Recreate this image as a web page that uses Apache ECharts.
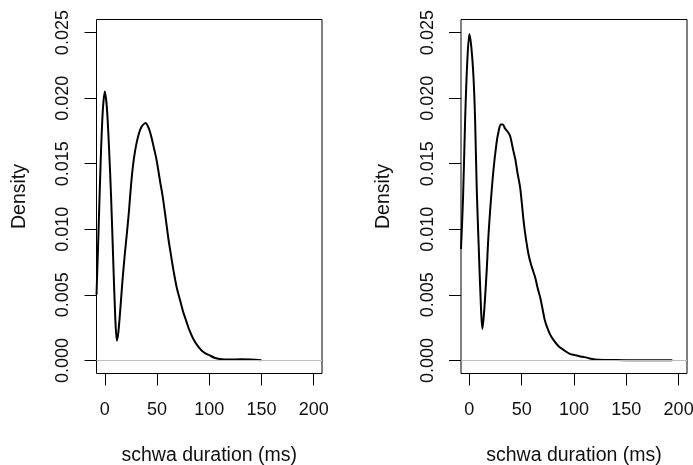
<!DOCTYPE html>
<html>
<head>
<meta charset="utf-8">
<script src="https://cdn.jsdelivr.net/npm/echarts@6/dist/echarts.min.js"></script>
<style>
html,body{margin:0;padding:0;background:#fff;}
#c{width:693px;height:465px;}
</style>
</head>
<body>
<div id="c"></div>
<script>
// Tick labels
const xTicks = [0, 50, 100, 150, 200];
const yTicks = [0, 0.005, 0.010, 0.015, 0.020, 0.025];

// Left panel density curve
const leftX = [-8, -6, -4, -2, 0, 2, 4, 6, 8, 10, 11.5, 13, 15, 17, 19, 21, 23, 25, 27, 29, 31, 33, 35, 37, 39, 41, 43, 45, 47, 49, 51, 53, 55, 57, 59, 61, 63, 65, 67, 69, 71, 73, 75, 78, 81, 85, 90, 95, 100, 105, 110, 120, 130, 140, 150];
const leftY = [0.0050, 0.0100, 0.0152, 0.0190, 0.0205, 0.0192, 0.0162, 0.0124, 0.0077, 0.0032, 0.0015, 0.0022, 0.0041, 0.0062, 0.0080, 0.0096, 0.0113, 0.0133, 0.0149, 0.0160, 0.0168, 0.0174, 0.0178, 0.0180, 0.0181, 0.0179, 0.0175, 0.0169, 0.0162, 0.0155, 0.0146, 0.0136, 0.0127, 0.0116, 0.0104, 0.0092, 0.0082, 0.0072, 0.0063, 0.0055, 0.0049, 0.0043, 0.0037, 0.0030, 0.0023, 0.0016, 0.0010, 0.0006, 0.0004, 0.0002, 0.0001, 0.00006, 0.00008, 0.00006, 0.00002];

// Right panel density curve
const rightX = [-8, -6, -4, -2, 0, 2, 4, 5.5, 7, 9, 11, 12.4, 14, 16.6, 18, 20, 23, 26, 28, 30, 32, 34, 37, 39, 42, 44, 46, 48.5, 50, 52, 54, 56.5, 59, 61, 63, 65, 67.7, 70, 72, 74, 77, 80, 85, 90, 96, 101, 106, 110, 115, 120, 130, 150, 170, 194];
const rightY = [0.0085, 0.0125, 0.0185, 0.0228, 0.0249, 0.0238, 0.0215, 0.0183, 0.0132, 0.0085, 0.0042, 0.0024, 0.0036, 0.0069, 0.0092, 0.0116, 0.0145, 0.0166, 0.0175, 0.0180, 0.0180, 0.0177, 0.0174, 0.0171, 0.0160, 0.0153, 0.0143, 0.0132, 0.0121, 0.0105, 0.0093, 0.0081, 0.0073, 0.0068, 0.0063, 0.0056, 0.0048, 0.0039, 0.0031, 0.0026, 0.0020, 0.0016, 0.0011, 0.0008, 0.0005, 0.0004, 0.0003, 0.00025, 0.00015, 0.00006, 0.00003, 0.00002, 0.00002, 0.00001];

const xName = 'schwa duration (ms)';
const yName = 'Density';

const FONT = 'Liberation Sans, Arial, sans-serif';
const FS = 18;
const FSN = 19.5;
const TXT = '#111';

function pairs(xs, ys) { return xs.map((x, i) => [x, ys[i]]); }

function xAxis(gi) {
  return {
    type: 'value', gridIndex: gi, min: -8, max: 208, position: 'bottom',
    axisLine: { show: false, onZero: false },
    splitLine: { show: false },
    axisTick: { show: true, inside: false, customValues: xTicks, length: 12, lineStyle: { color: '#000', width: 1 } },
    axisLabel: { customValues: xTicks, margin: 28, fontSize: FS, fontFamily: FONT, color: TXT },
    name: xName, nameLocation: 'middle', nameGap: 72,
    nameTextStyle: { fontSize: FSN, fontFamily: FONT, color: TXT }
  };
}
function yAxis(gi) {
  return {
    type: 'value', gridIndex: gi, min: -0.001, max: 0.026, position: 'left',
    axisLine: { show: false, onZero: false },
    splitLine: { show: false },
    axisTick: { show: true, inside: false, customValues: yTicks, length: 12, lineStyle: { color: '#000', width: 1 } },
    axisLabel: { customValues: yTicks, rotate: 90, margin: 24, fontSize: FS, fontFamily: FONT, color: TXT,
      formatter: v => v.toFixed(3) },
    name: yName, nameLocation: 'middle', nameRotate: 90, nameGap: 67,
    nameTextStyle: { fontSize: FSN, fontFamily: FONT, color: TXT }
  };
}
function series(gi, data) {
  return {
    type: 'line', xAxisIndex: gi, yAxisIndex: gi, data: data,
    showSymbol: false, smooth: 0.3, silent: true,
    lineStyle: { color: '#000', width: 2 },
    markLine: {
      silent: true, symbol: 'none', label: { show: false },
      lineStyle: { color: '#bdbdbd', width: 1, type: 'solid' },
      data: [{ yAxis: 0 }]
    }
  };
}

const gridBase = { show: true, borderColor: '#000', borderWidth: 1, backgroundColor: 'transparent', containLabel: false, outerBoundsMode: 'none' };

const chart = echarts.init(document.getElementById('c'), null, { renderer: 'canvas' });
chart.setOption({
  animation: false,
  backgroundColor: '#fff',
  grid: [
    Object.assign({ left: 96.5, top: 19.5, width: 225.5, height: 354 }, gridBase),
    Object.assign({ left: 461, top: 19.5, width: 226, height: 354 }, gridBase)
  ],
  xAxis: [xAxis(0), xAxis(1)],
  yAxis: [yAxis(0), yAxis(1)],
  series: [series(0, pairs(leftX, leftY)), series(1, pairs(rightX, rightY))]
});
</script>
</body>
</html>
